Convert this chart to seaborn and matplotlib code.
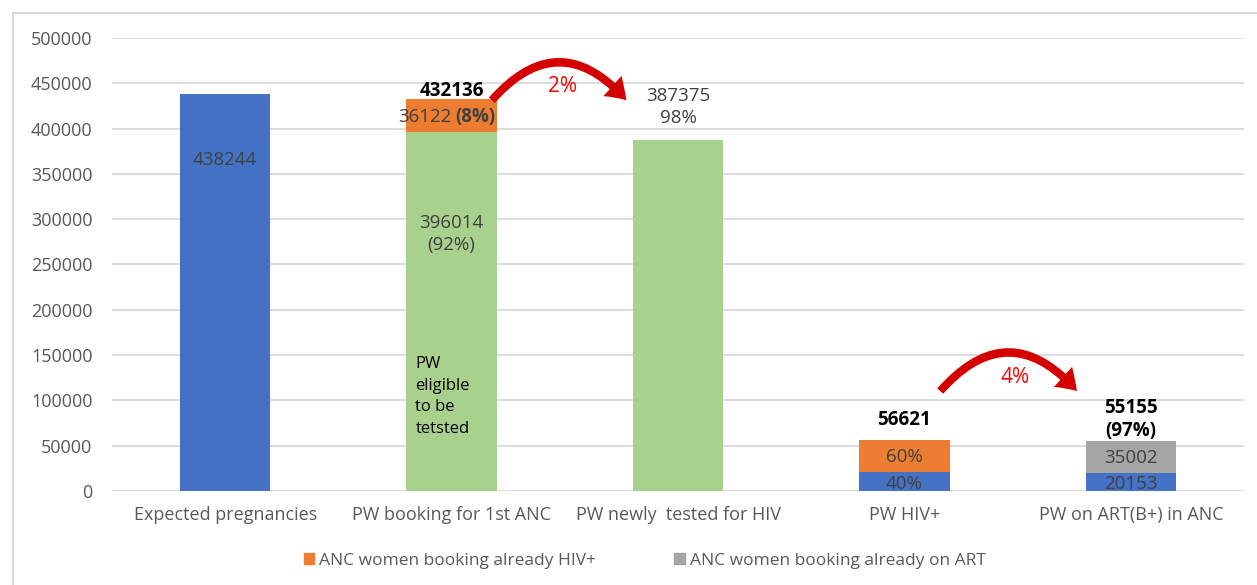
"""Cascade of ANC / HIV testing among pregnant women."""
import matplotlib
matplotlib.use("Agg")
import matplotlib.pyplot as plt
from matplotlib.patches import FancyArrowPatch, Patch
from matplotlib.lines import Line2D
import seaborn as sns
import numpy as np
import pandas as pd

# data
categories = ["Expected pregnancies", "PW booking for 1st ANC", "PW newly  tested for HIV",
              "PW HIV+", "PW on ART(B+) in ANC"]
blue_vals = [438244, 0, 0, 20499, 20153]
green_vals = [0, 396014, 387375, 0, 0]
orange_vals = [0, 36122, 0, 36122, 0]
gray_vals = [0, 0, 0, 0, 35002]
y_ticks = [0, 50000, 100000, 150000, 200000, 250000, 300000, 350000, 400000, 450000, 500000]

BLUE = "#4472C4"
GREEN = "#A9D18E"
ORANGE = "#ED7D31"
GRAY = "#A5A5A5"
GRID = "#D9D9D9"
TXT = "#404040"

sns.set_theme(style="white")
plt.rcParams["font.family"] = ["Open Sans", "DejaVu Sans"]

df = pd.DataFrame({"cat": categories, "blue": blue_vals, "green": green_vals,
                   "orange": orange_vals, "gray": gray_vals})
blue = np.array(blue_vals)
green = np.array(green_vals)

fig = plt.figure(figsize=(12.57, 5.85), dpi=100)
ax = fig.add_axes([0.0891, 0.1607, 0.9006, 0.7744])

# gridlines behind the bars
for t in y_ticks:
    ax.axhline(t, color=GRID, lw=1.3, zorder=0)

bar_kw = dict(width=0.4, saturation=1, linewidth=0, ax=ax, zorder=2)
sns.barplot(data=df, x="cat", y="blue", color=BLUE, **bar_kw)
sns.barplot(data=df, x="cat", y="green", color=GREEN, **bar_kw)
sns.barplot(data=df, x="cat", y="orange", color=ORANGE, bottom=blue + green, **bar_kw)
sns.barplot(data=df, x="cat", y="gray", color=GRAY, bottom=blue, **bar_kw)

ax.set_ylim(0, 500000)
ax.set_xlim(-0.5, 4.5)
ax.set_yticks(y_ticks)
ax.set_yticklabels([str(t) for t in y_ticks])
ax.set_xlabel("")
ax.set_ylabel("")
ax.tick_params(axis="y", length=0, pad=14, labelsize=13, labelcolor="#595959")
ax.tick_params(axis="x", length=0, pad=11, labelsize=13, labelcolor="#595959")
for s in ax.spines.values():
    s.set_visible(False)

# value labels
fs = 13.5
ax.text(0, 365000, "438244", ha="center", va="center", fontsize=fs, color=TXT, zorder=5)
ax.text(1, 441500, "432136", ha="center", va="center", fontsize=fs, color="black",
        fontweight="bold", zorder=5)
ax.text(1.0, 412800, "36122", ha="right", va="center", fontsize=fs, color=TXT, zorder=5)
ax.text(1.017, 412800, "(8%)", ha="left", va="center", fontsize=fs, color=TXT,
        fontweight="bold", zorder=5)
ax.text(1, 284000, "396014\n(92%)", ha="center", va="center", fontsize=fs, color=TXT,
        linespacing=1.3, zorder=5)
ax.text(0.84, 148500, "PW\neligible\nto be\ntetsted", ha="left", va="top", fontsize=12,
        color="black", linespacing=1.45, zorder=5)
ax.text(2, 424000, "387375\n98%", ha="center", va="center", fontsize=fs, color=TXT,
        linespacing=1.3, zorder=5)
ax.text(3, 78400, "56621", ha="center", va="center", fontsize=fs, color="black",
        fontweight="bold", zorder=5)
ax.text(3, 37000, "60%", ha="center", va="center", fontsize=fs, color=TXT, zorder=5)
ax.text(3, 8000, "40%", ha="center", va="center", fontsize=fs, color=TXT, zorder=5)
ax.text(4, 79000, "55155\n(97%)", ha="center", va="center", fontsize=fs, color="black",
        fontweight="bold", linespacing=1.25, zorder=5)
ax.text(4, 36400, "35002", ha="center", va="center", fontsize=fs, color=TXT, zorder=5)
ax.text(4, 7700, "20153", ha="center", va="center", fontsize=fs, color=TXT, zorder=5)

# curved red arrows
for (x0, y0), (x1, y1), rad in [((1.17, 429000), (1.78, 429000), -0.58),
                                 ((3.15, 108000), (3.77, 108000), -0.58)]:
    arr = FancyArrowPatch((x0, y0), (x1, y1), connectionstyle=f"arc3,rad={rad}",
                          arrowstyle="simple,head_width=1.5,head_length=1.1,tail_width=0.45",
                          mutation_scale=13, color="#D40000", lw=0, zorder=6)
    ax.add_patch(arr)
ax.text(1.49, 445900, "2%", ha="center", va="center", fontsize=15, color="red", zorder=6)
ax.text(3.49, 125800, "4%", ha="center", va="center", fontsize=15, color="red", zorder=6)

# legend
handles = [Patch(color=ORANGE, label="ANC women booking already HIV+"),
           Patch(color=GRAY, label="ANC women booking already on ART")]
fig.legend(handles=handles, loc="center", bbox_to_anchor=(0.513, 0.041), ncol=2,
           frameon=False, fontsize=12.5, handlelength=0.6, handleheight=0.6,
           handletextpad=0.3, columnspacing=4.5, labelcolor="#595959")

# chart frame (cropped at right and bottom)
fig.add_artist(Line2D([0.0103, 0.0103], [0, 0.978], color=GRID, lw=1.5))
fig.add_artist(Line2D([0.0103, 1.0], [0.978, 0.978], color=GRID, lw=1.5))

fig.savefig("out.png", dpi=100)
